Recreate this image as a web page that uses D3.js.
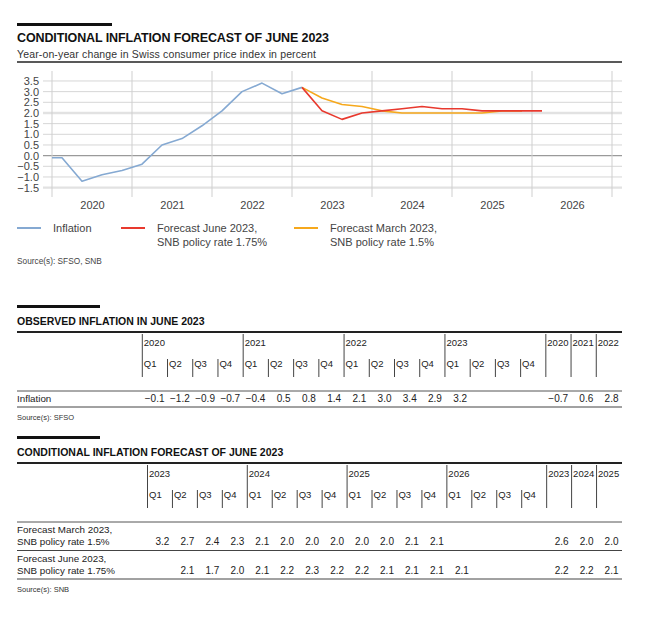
<!DOCTYPE html>
<html>
<head>
<meta charset="utf-8">
<script src="https://cdn.jsdelivr.net/npm/d3@7"></script>
<style>
body { margin: 0; background: #fff; }
text { font-family: "Liberation Sans", Arial, sans-serif; }
</style>
</head>
<body>
<svg id="c" width="658" height="640"></svg>
<script>
// ---- data ----
var years = ["2020", "2021", "2022", "2023", "2024", "2025", "2026"];
var yTicks = [-1.5, -1.0, -0.5, 0.0, 0.5, 1.0, 1.5, 2.0, 2.5, 3.0, 3.5];
var quarters = ["Q1", "Q2", "Q3", "Q4"];

var obsQuarters = ["2019Q4", "2020Q1", "2020Q2", "2020Q3", "2020Q4", "2021Q1", "2021Q2", "2021Q3", "2021Q4",
                   "2022Q1", "2022Q2", "2022Q3", "2022Q4", "2023Q1"];
var inflation = [-0.1, -0.1, -1.2, -0.9, -0.7, -0.4, 0.5, 0.8, 1.4, 2.1, 3.0, 3.4, 2.9, 3.2];

var fcQuarters = ["2023Q1", "2023Q2", "2023Q3", "2023Q4", "2024Q1", "2024Q2", "2024Q3", "2024Q4",
                  "2025Q1", "2025Q2", "2025Q3", "2025Q4", "2026Q1"];
var forecastMarch = [3.2, 2.7, 2.4, 2.3, 2.1, 2.0, 2.0, 2.0, 2.0, 2.0, 2.1, 2.1, null];
var forecastJune = [null, 2.1, 1.7, 2.0, 2.1, 2.2, 2.3, 2.2, 2.2, 2.1, 2.1, 2.1, 2.1];

var obsTableYears = ["2020", "2021", "2022", "2023"];
var obsAnnualYears = ["2020", "2021", "2022"];
var obsAnnual = [-0.7, 0.6, 2.8];

var fcTableYears = ["2023", "2024", "2025", "2026"];
var fcAnnualYears = ["2023", "2024", "2025"];
var marchAnnual = [2.6, 2.0, 2.0];
var juneAnnual = [2.2, 2.2, 2.1];

var cBlue = "#85a9d2", cRed = "#e8392e", cOrange = "#f6a81c";
var fmt = d3.format(".1f");

var svg = d3.select("#c");

// ---- header of the chart ----
svg.append("rect").attr("x", 17).attr("y", 23).attr("width", 95).attr("height", 3).attr("fill", "#111");
svg.append("text").attr("x", 17).attr("y", 42)
  .attr("font-size", 12.5).attr("font-weight", "bold").attr("fill", "#111")
  .attr("textLength", 312).attr("lengthAdjust", "spacing")
  .text("CONDITIONAL INFLATION FORECAST OF JUNE 2023");
svg.append("text").attr("x", 17).attr("y", 57.5)
  .attr("font-size", 10.5).attr("fill", "#333")
  .attr("textLength", 299).attr("lengthAdjust", "spacing")
  .text("Year-on-year change in Swiss consumer price index in percent");
svg.append("line").attr("x1", 17).attr("x2", 622).attr("y1", 62).attr("y2", 62)
  .attr("stroke", "#222").attr("stroke-width", 1.3);

// ---- chart ----
function qx(s) { return +s.slice(0, 4) + (+s.slice(5) - 0.5) / 4; }

var x = d3.scaleLinear().domain([2020, 2027]).range([52, 612]);
var y = d3.scaleLinear().domain([-2, 4]).range([198.3, 70.3]);

var grid = svg.append("g");
grid.selectAll("line.h").data(yTicks).enter().append("line")
  .attr("x1", 43).attr("x2", 622)
  .attr("y1", function(d) { return y(d); }).attr("y2", function(d) { return y(d); })
  .attr("stroke", function(d) { return d === 0 ? "#9a9a9a" : (d === 2 || d === -1.5) ? "#e2e2e2" : "#d6d6d6"; })
  .attr("stroke-width", function(d) { return d === 0 ? 1.2 : (d === 2 || d === -1.5) ? 2.4 : 1; });
grid.selectAll("line.v").data(d3.range(2020, 2028)).enter().append("line")
  .attr("x1", function(d) { return x(d); }).attr("x2", function(d) { return x(d); })
  .attr("y1", 71).attr("y2", 197)
  .attr("stroke", "#cfcfcf").attr("stroke-width", 1);

var yAxis = svg.append("g").attr("transform", "translate(39,0)")
  .call(d3.axisLeft(y).tickValues(yTicks).tickFormat(fmt).tickSize(0).tickPadding(0));
yAxis.select(".domain").remove();
yAxis.selectAll("text").attr("font-size", 11).attr("fill", "#444")
  .attr("font-family", "'Liberation Sans', Arial, sans-serif");

var xAxis = svg.append("g").attr("transform", "translate(0,201)")
  .call(d3.axisBottom(x).tickValues(years.map(function(d) { return +d + 0.5; }))
    .tickFormat(function(d) { return Math.floor(d); }).tickSize(0).tickPadding(0));
xAxis.select(".domain").remove();
xAxis.selectAll("text").attr("font-size", 11).attr("fill", "#444")
  .attr("font-family", "'Liberation Sans', Arial, sans-serif");

svg.append("clipPath").attr("id", "plot").append("rect")
  .attr("x", 52).attr("y", 60).attr("width", 570).attr("height", 140);

var line = d3.line()
  .defined(function(d) { return d.v != null; })
  .x(function(d) { return x(qx(d.q)); })
  .y(function(d) { return y(d.v); });

var obsSeries = obsQuarters.map(function(q, i) { return { q: q, v: inflation[i] }; });
var marchSeries = fcQuarters.map(function(q, i) { return { q: q, v: forecastMarch[i] }; });
// June forecast is drawn from the last observed quarter
var juneSeries = fcQuarters.map(function(q, i) {
  var v = forecastJune[i];
  if (v == null && q === obsQuarters[obsQuarters.length - 1]) v = inflation[inflation.length - 1];
  return { q: q, v: v };
});

var plot = svg.append("g").attr("clip-path", "url(#plot)");
[[obsSeries, cBlue], [marchSeries, cOrange], [juneSeries, cRed]].forEach(function(s) {
  plot.append("path").datum(s[0]).attr("d", line)
    .attr("fill", "none").attr("stroke", s[1]).attr("stroke-width", 1.6)
    .attr("stroke-linejoin", "round");
});

// legend
var legend = [
  { c: cBlue, x: 17, t: ["Inflation"] },
  { c: cRed, x: 121, t: ["Forecast June 2023,", "SNB policy rate 1.75%"] },
  { c: cOrange, x: 294, t: ["Forecast March 2023,", "SNB policy rate 1.5%"] }
];
legend.forEach(function(l) {
  svg.append("line").attr("x1", l.x).attr("x2", l.x + 24).attr("y1", 228).attr("y2", 228)
    .attr("stroke", l.c).attr("stroke-width", 2);
  l.t.forEach(function(t, i) {
    svg.append("text").attr("x", l.x + 36).attr("y", 232 + i * 14)
      .attr("font-size", 11).attr("fill", "#444").text(t);
  });
});
svg.append("text").attr("x", 17).attr("y", 264).attr("font-size", 8.3).attr("fill", "#444")
  .text("Source(s): SFSO, SNB");

// ---- tables ----
function drawTable(cfg) {
  var g = svg.append("g");
  var top = cfg.top;
  g.append("rect").attr("x", 17).attr("y", top - 27).attr("width", 83).attr("height", 3).attr("fill", "#111");
  g.append("text").attr("x", 17).attr("y", top - 7.5).attr("font-size", 10.5).attr("font-weight", "bold")
    .attr("fill", "#111").text(cfg.title);
  g.append("line").attr("x1", 17).attr("x2", 622).attr("y1", top).attr("y2", top)
    .attr("stroke", "#222").attr("stroke-width", 1.8);

  var keys = [];
  cfg.qYears.forEach(function(yr) { quarters.forEach(function(q) { keys.push(yr + q); }); });
  cfg.aYears.forEach(function(yr) { keys.push("A" + yr); });
  var col = d3.scaleBand().domain(keys).range([cfg.x0, 621.5]);

  var hb = top + 45; // bottom of header lines
  keys.forEach(function(k) {
    var full = k[0] === "A" || k.slice(4) === "Q1";
    g.append("line").attr("x1", col(k)).attr("x2", col(k))
      .attr("y1", full ? top + 2 : top + 27).attr("y2", hb)
      .attr("stroke", "#444").attr("stroke-width", 1);
    if (full) {
      g.append("text").attr("x", col(k) + 1.5).attr("y", top + 14)
        .attr("font-size", 9.5).attr("fill", "#222").text(k[0] === "A" ? k.slice(1) : k.slice(0, 4));
    }
    if (k[0] !== "A") {
      g.append("text").attr("x", col(k) + 1.5).attr("y", top + 35)
        .attr("font-size", 9.5).attr("fill", "#222").text(k.slice(4));
    }
  });

  var ry = top + 59;
  g.append("line").attr("x1", 17).attr("x2", 622).attr("y1", ry).attr("y2", ry)
    .attr("stroke", "#555").attr("stroke-width", 1);
  cfg.rows.forEach(function(r) {
    var h = r.label.length * 12.5 + 3.5;
    r.label.forEach(function(t, i) {
      g.append("text").attr("x", 17).attr("y", ry + 11 + i * 12).attr("font-size", 9.8)
        .attr("fill", "#222").text(t);
    });
    var vy = ry + 11 + (r.label.length - 1) * 12;
    keys.forEach(function(k) {
      var v = r.values[k];
      if (v == null) return;
      g.append("text").attr("x", col(k) + col.bandwidth() - 3).attr("y", vy)
        .attr("text-anchor", "end").attr("font-size", 10).attr("fill", "#222").text(fmt(v));
    });
    ry += h;
    g.append("line").attr("x1", 17).attr("x2", 622).attr("y1", ry).attr("y2", ry)
      .attr("stroke", "#444").attr("stroke-width", 1);
  });
  g.append("text").attr("x", 17).attr("y", ry + 13).attr("font-size", 7.5).attr("fill", "#333")
    .text(cfg.source);
}

function rowValues(qs, vals, ays, avals) {
  var o = {};
  qs.forEach(function(q, i) { o[q] = vals[i]; });
  ays.forEach(function(a, i) { o["A" + a] = avals[i]; });
  return o;
}

drawTable({
  top: 332, x0: 142.3, title: "OBSERVED INFLATION IN JUNE 2023", source: "Source(s): SFSO",
  qYears: obsTableYears, aYears: obsAnnualYears,
  rows: [{ label: ["Inflation"], values: rowValues(obsQuarters, inflation, obsAnnualYears, obsAnnual) }]
});

drawTable({
  top: 463, x0: 147.5, title: "CONDITIONAL INFLATION FORECAST OF JUNE 2023", source: "Source(s): SNB",
  qYears: fcTableYears, aYears: fcAnnualYears,
  rows: [
    { label: ["Forecast March 2023,", "SNB policy rate 1.5%"], values: rowValues(fcQuarters, forecastMarch, fcAnnualYears, marchAnnual) },
    { label: ["Forecast June 2023,", "SNB policy rate 1.75%"], values: rowValues(fcQuarters, forecastJune, fcAnnualYears, juneAnnual) }
  ]
});
</script>
</body>
</html>
